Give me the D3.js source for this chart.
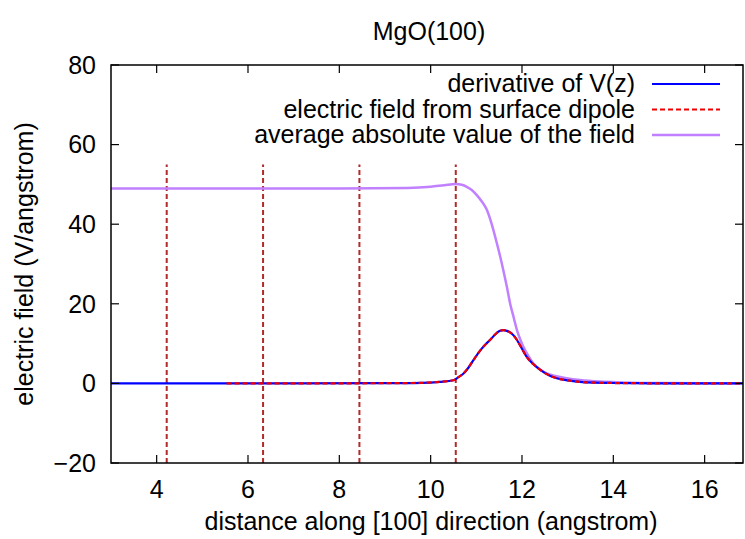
<!DOCTYPE html>
<html><head><meta charset="utf-8">
<script src="https://cdn.jsdelivr.net/npm/d3@7"></script>
<style>
body{margin:0;background:#fff;}
text{font-family:"Liberation Sans",Arial,Helvetica,sans-serif;fill:#000;}
</style></head>
<body><svg id="c" width="745" height="539"></svg>
<script>
const title = "MgO(100)";
const xLabel = "distance along [100] direction (angstrom)";
const yLabel = "electric field (V/angstrom)";
const xTicks = [4, 6, 8, 10, 12, 14, 16];
const yTicks = [-20, 0, 20, 40, 60, 80];
const seriesNames = ["derivative of V(z)", "electric field from surface dipole", "average absolute value of the field"];

// derivative of V(z)
const derivX = [3, 5, 7, 9, 9.8, 10.2, 10.5, 10.6, 10.72, 10.83, 10.94, 11.1, 11.2, 11.3, 11.45, 11.52, 11.59, 11.67, 11.74, 11.82, 11.89, 12.0, 12.1, 12.25, 12.4, 12.6, 12.76, 13.0, 13.27, 13.6, 14.0, 14.5, 15.5, 16.84];
const derivY = [0, 0, 0, 0.05, 0.15, 0.4, 0.8, 1.5, 2.5, 4.0, 5.9, 8.5, 9.8, 10.9, 12.7, 13.2, 13.4, 13.2, 12.8, 12.0, 10.9, 8.7, 6.7, 4.8, 3.4, 2.0, 1.3, 0.75, 0.4, 0.2, 0.1, 0.05, 0, 0];
// electric field from surface dipole
const dipoleX = [5.53, 7, 9, 9.8, 10.2, 10.5, 10.6, 10.72, 10.83, 10.94, 11.1, 11.2, 11.3, 11.45, 11.52, 11.59, 11.67, 11.74, 11.82, 11.89, 12.0, 12.1, 12.25, 12.4, 12.6, 12.76, 13.0, 13.27, 13.6, 14.0, 14.5, 15.5, 16.84];
const dipoleY = [0, 0, 0.05, 0.15, 0.4, 0.8, 1.5, 2.5, 4.0, 5.9, 8.5, 9.8, 10.9, 12.7, 13.2, 13.4, 13.2, 12.8, 12.0, 10.9, 8.7, 6.7, 4.8, 3.4, 2.0, 1.3, 0.75, 0.4, 0.2, 0.1, 0.05, 0, 0];
// average absolute value of the field
const avgX = [3, 6, 8, 9.5, 10.0, 10.3, 10.55, 10.68, 10.79, 10.9, 11.01, 11.12, 11.23, 11.34, 11.45, 11.52, 11.59, 11.67, 11.74, 11.82, 11.89, 11.96, 12.03, 12.14, 12.25, 12.4, 12.54, 12.75, 12.98, 13.27, 13.7, 14.2, 15, 16.84];
const avgY = [49.0, 49.0, 49.0, 49.1, 49.4, 49.8, 50.1, 49.9, 49.4, 48.6, 47.3, 45.7, 43.6, 39.9, 35.2, 32.0, 28.5, 24.2, 20.1, 16.5, 13.4, 11.1, 9.2, 6.9, 5.0, 3.5, 2.5, 1.8, 1.3, 0.85, 0.45, 0.25, 0.1, 0.05];
// atomic plane positions (vertical dashed lines)
const planeX = [4.22, 6.33, 8.44, 10.55];
const planeTop = 55;

const svg = d3.select("#c");
const L = 111, R = 743, T = 65, B = 463;
const FS = 25;
const x = d3.scaleLinear().domain([3, 16.84]).range([L, R]);
const y = d3.scaleLinear().domain([-20, 80]).range([B, T]);

svg.append("defs").append("clipPath").attr("id","pc")
  .append("rect").attr("x",L).attr("y",T).attr("width",R-L).attr("height",B-T);
const g = svg.append("g").attr("clip-path","url(#pc)");

// vertical plane lines
g.selectAll("line.plane").data(planeX).enter().append("line")
  .attr("x1", d=>x(d)).attr("x2", d=>x(d))
  .attr("y1", y(-20)).attr("y2", y(planeTop))
  .attr("stroke","#b22a2a").attr("stroke-width",2).attr("stroke-dasharray","5,3");

const line = d3.line().curve(d3.curveMonotoneX);
function pts(xs, ys){ return xs.map((v,i)=>[x(v), y(ys[i])]); }

g.append("path").attr("d", line(pts(avgX, avgY))).attr("fill","none")
  .attr("stroke","#c080ff").attr("stroke-width",2.5);
g.append("path").attr("d", line(pts(derivX, derivY))).attr("fill","none")
  .attr("stroke","#0000ff").attr("stroke-width",2.2);
g.append("path").attr("d", line(pts(dipoleX, dipoleY))).attr("fill","none")
  .attr("stroke","#ee0000").attr("stroke-width",2.2).attr("stroke-dasharray","5,3");

// frame
svg.append("rect").attr("x",L).attr("y",T).attr("width",R-L).attr("height",B-T)
  .attr("fill","none").attr("stroke","#000").attr("stroke-width",1.5);

// ticks
const tk = 8;
xTicks.forEach(v=>{
  svg.append("line").attr("x1",x(v)).attr("x2",x(v)).attr("y1",B).attr("y2",B-tk).attr("stroke","#000").attr("stroke-width",1.2);
  svg.append("line").attr("x1",x(v)).attr("x2",x(v)).attr("y1",T).attr("y2",T+tk).attr("stroke","#000").attr("stroke-width",1.2);
  svg.append("text").attr("x",x(v)).attr("y",498).attr("text-anchor","middle").attr("font-size",FS).text(v);
});
yTicks.forEach(v=>{
  svg.append("line").attr("x1",L).attr("x2",L+tk).attr("y1",y(v)).attr("y2",y(v)).attr("stroke","#000").attr("stroke-width",1.2);
  svg.append("line").attr("x1",R).attr("x2",R-tk).attr("y1",y(v)).attr("y2",y(v)).attr("stroke","#000").attr("stroke-width",1.2);
  svg.append("text").attr("x",96).attr("y",y(v)+8.8).attr("text-anchor","end").attr("font-size",FS)
    .text(v<0 ? "\u2212"+Math.abs(v) : v);
});

// title and axis labels
svg.append("text").attr("x",429).attr("y",40).attr("text-anchor","middle").attr("font-size",FS).text(title);
svg.append("text").attr("x",431).attr("y",530).attr("text-anchor","middle").attr("font-size",FS).text(xLabel);
svg.append("text").attr("transform","translate(33,264) rotate(-90)").attr("text-anchor","middle").attr("font-size",FS).text(yLabel);

// legend
const legStyles = [
  {c:"#0000ff", w:2.2, d:null},
  {c:"#ee0000", w:2.2, d:"5,3"},
  {c:"#c080ff", w:2.5, d:null}
];
seriesNames.forEach((n,i)=>{
  const ly = 84 + i*25.5;
  svg.append("text").attr("x",635).attr("y",ly+8).attr("text-anchor","end").attr("font-size",FS).text(n);
  const l = svg.append("line").attr("x1",652).attr("x2",720).attr("y1",ly).attr("y2",ly)
    .attr("stroke",legStyles[i].c).attr("stroke-width",legStyles[i].w);
  if(legStyles[i].d) l.attr("stroke-dasharray",legStyles[i].d);
});
</script></body></html>
